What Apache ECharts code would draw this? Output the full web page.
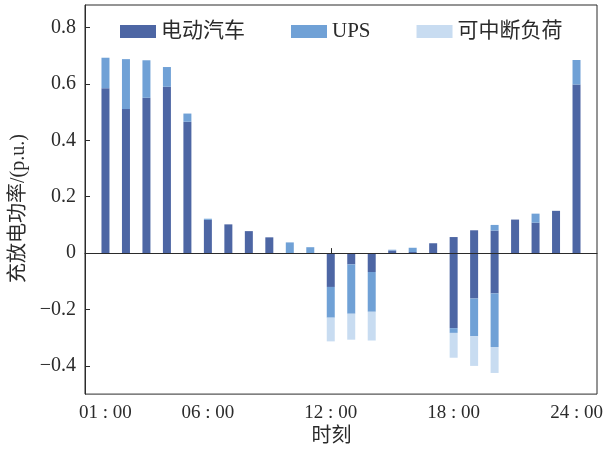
<!DOCTYPE html>
<html>
<head>
<meta charset="utf-8">
<script src="https://cdn.jsdelivr.net/npm/echarts@6/dist/echarts.min.js"></script>
<style>
  html, body { margin: 0; padding: 0; background: #fff; }
  #chart { width: 606px; height: 452px; }
</style>
</head>
<body>
<div id="chart"></div>
<script>
// Hour of day for each bar (1..24)
const hours = [1, 2, 3, 4, 5, 6, 7, 8, 9, 10, 11, 12, 13, 14, 15, 16, 17, 18, 19, 20, 21, 22, 23, 24];

// Charging (positive) power, p.u.
const evCharge = [0.585, 0.511, 0.551, 0.590, 0.466, 0.118, 0.102, 0.078, 0.056, null, null, null,
                  null, null, 0.009, 0.004, 0.035, 0.057, 0.081, 0.080, 0.119, 0.108, 0.150, 0.598];
const upsCharge = [0.108, 0.177, 0.133, 0.070, 0.029, 0.004, null, null, null, 0.038, 0.021, null,
                   null, null, 0.003, 0.015, null, null, null, 0.020, null, 0.032, null, 0.087];

// Discharging (negative) power, p.u.
const evDischarge = [null, null, null, null, null, null, null, null, null, null, null, -0.120,
                     -0.040, -0.067, null, null, null, -0.266, -0.161, -0.143, null, null, null, null];
const upsDischarge = [null, null, null, null, null, null, null, null, null, null, null, -0.109,
                      -0.175, -0.141, null, null, null, -0.017, -0.134, -0.190, null, null, null, null];
const ilDischarge = [null, null, null, null, null, null, null, null, null, null, null, -0.084,
                     -0.092, -0.102, null, null, null, -0.088, -0.105, -0.092, null, null, null, null];

// Axis tick values and labels
const xTicks = [1, 6, 12, 18, 24];
const xTickLabels = ['01 : 00', '06 : 00', '12 : 00', '18 : 00', '24 : 00'];
const yTicks = [-0.4, -0.2, 0, 0.2, 0.4, 0.6, 0.8];

const seriesNames = ['电动汽车', 'UPS', '可中断负荷'];
const colors = { ev: '#4d66a4', ups: '#70a1d6', il: '#c8dcf1' };

const FONT = "'Liberation Serif', 'Noto Sans CJK SC', serif";
const INK = '#2b2b2b';

// The time axis runs from hour 0 to hour 25; bars sit on hours 1..24.
const slots = [];
for (let h = 0; h <= 25; h++) slots.push(h);

function slotData(values) {
  return slots.map(h => {
    const i = hours.indexOf(h);
    return (i < 0 || values[i] == null) ? '-' : values[i];
  });
}

function barSeries(name, values, color, extra) {
  return Object.assign({
    name: name,
    type: 'bar',
    stack: 'power',
    barWidth: 8,
    itemStyle: { color: color },
    emphasis: { disabled: true },
    data: slotData(values)
  }, extra || {});
}

const chart = echarts.init(document.getElementById('chart'), null, { renderer: 'canvas' });

chart.setOption({
  animation: false,
  textStyle: { fontFamily: FONT, color: INK },
  grid: {
    left: 85, right: 9, top: 5, bottom: 55,
    show: true, borderColor: INK, borderWidth: 1, backgroundColor: 'transparent'
  },
  legend: {
    data: seriesNames,
    left: 115, top: 16,
    itemWidth: 36, itemHeight: 13, itemGap: 46,
    icon: 'rect',
    textStyle: { fontFamily: FONT, fontSize: 21, color: INK }
  },
  xAxis: {
    type: 'category',
    data: slots,
    boundaryGap: false,
    name: '时刻',
    nameLocation: 'middle',
    nameGap: 30,
    nameTextStyle: { fontFamily: FONT, fontSize: 20, color: INK, padding: [0, 19, 0, 0] },
    axisLine: { show: true, lineStyle: { color: INK, width: 1 } },
    axisTick: {
      show: true, inside: true, length: 5, alignWithLabel: true,
      interval: idx => xTicks.indexOf(slots[idx]) >= 0,
      lineStyle: { color: INK }
    },
    axisLabel: {
      interval: idx => xTicks.indexOf(slots[idx]) >= 0,
      margin: 9,
      fontSize: 19,
      color: INK,
      formatter: v => xTickLabels[xTicks.indexOf(Number(v))]
    },
    splitLine: { show: false }
  },
  yAxis: {
    type: 'value',
    min: -0.5, max: 0.88,
    name: '充放电功率/(p.u.)',
    nameLocation: 'middle',
    nameGap: 55,
    nameTextStyle: { fontFamily: FONT, fontSize: 20, color: INK, padding: [0, 18, 0, 0] },
    axisLine: { show: true, lineStyle: { color: INK, width: 1 } },
    axisTick: { show: true, inside: true, length: 5, customValues: yTicks, lineStyle: { color: INK } },
    axisLabel: {
      customValues: yTicks,
      margin: 9,
      fontSize: 20,
      color: INK,
      formatter: v => {
        if (Math.abs(v) < 1e-9) return '0';
        const s = Math.abs(v).toFixed(1);
        return v < 0 ? '\u2212' + s : s;
      }
    },
    splitLine: { show: false }
  },
  series: [
    barSeries(seriesNames[0], evCharge, colors.ev, {
      markLine: {
        silent: true,
        symbol: 'none',
        label: { show: false },
        lineStyle: { color: INK, type: 'solid', width: 1 },
        data: [{ yAxis: 0 }]
      }
    }),
    barSeries(seriesNames[1], upsCharge, colors.ups),
    barSeries(seriesNames[0], evDischarge, colors.ev),
    barSeries(seriesNames[1], upsDischarge, colors.ups),
    barSeries(seriesNames[2], ilDischarge, colors.il)
  ]
});
</script>
</body>
</html>
